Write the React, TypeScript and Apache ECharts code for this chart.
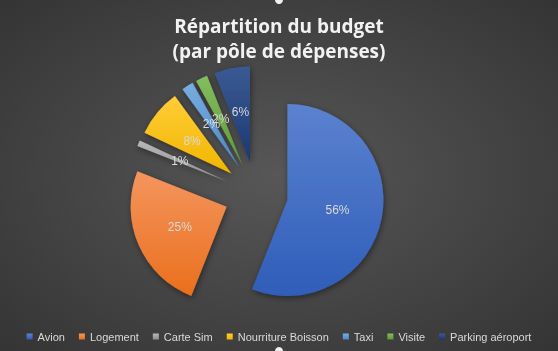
import React, { useEffect, useRef } from "react";
import * as echarts from "echarts";

const categories = ["Avion", "Logement", "Carte Sim", "Nourriture Boisson", "Taxi", "Visite", "Parking aéroport"];
const values = [56, 25, 1, 8, 2, 2, 6];
const topColors = ["#5b82d0", "#f4955e", "#b8b8b8", "#ffcd38", "#78aee0", "#84bd5e", "#3a5a94"];
const bottomColors = ["#2f5db8", "#ea6f1c", "#8f8f8f", "#f2b500", "#4a8acb", "#5e9a37", "#1d3870"];
const titleLines = ["Répartition du budget", "(par pôle de dépenses)"];

export default function App() {
  const ref = useRef<HTMLDivElement>(null);
  useEffect(() => {
    if (!ref.current) return;
    const chart = echarts.init(ref.current, undefined, { renderer: "svg" });
    const data = categories.map((name, i) => ({
      name,
      value: values[i],
      selected: true,
      itemStyle: {
        color: new echarts.graphic.LinearGradient(0, 0, 0, 1, [
          { offset: 0, color: topColors[i] },
          { offset: 1, color: bottomColors[i] },
        ]),
      },
    }));
    chart.setOption({
      animation: false,
      backgroundColor: {
        type: "radial",
        x: 0.5,
        y: 0.5,
        r: 0.75,
        colorStops: [
          { offset: 0, color: "#575757" },
          { offset: 1, color: "#323232" },
        ],
      },
      title: {
        text: titleLines.join("\n"),
        left: "center",
        top: 8,
        textStyle: {
          color: "#f2f2f2",
          fontFamily: "Open Sans",
          fontWeight: "bold",
          fontSize: 19,
          lineHeight: 25,
        },
      },
      legend: {
        data: categories,
        left: "center",
        top: 326,
        icon: "rect",
        itemWidth: 6,
        itemHeight: 6,
        itemGap: 14,
        textStyle: { color: "#d9d9d9", fontFamily: "Liberation Sans", fontSize: 11 },
        selectedMode: false,
      },
      graphic: [
        { type: "circle", shape: { cx: 279, cy: 0, r: 4 }, style: { fill: "#f0f0f0" } },
        { type: "circle", shape: { cx: 279, cy: 351, r: 4 }, style: { fill: "#f0f0f0" } },
      ],
      series: [
        {
          type: "pie",
          center: [256, 194],
          radius: [0, 96],
          startAngle: 90,
          clockwise: true,
          selectedMode: "multiple",
          selectedOffset: 32,
          avoidLabelOverlap: false,
          labelLayout: { hideOverlap: false },
          data,
          itemStyle: {
            shadowBlur: 6,
            shadowColor: "rgba(0,0,0,0.45)",
            shadowOffsetX: 1,
            shadowOffsetY: 2,
          },
          label: {
            show: true,
            position: "inside",
            color: "#d9d9d9",
            fontFamily: "Liberation Sans",
            fontSize: 12,
            overflow: "none",
            formatter: (p: any) => Math.round(p.percent) + "%",
          },
          labelLine: { show: false },
          emphasis: { disabled: true },
        },
      ],
    });
    return () => chart.dispose();
  }, []);
  return (
    <div
      ref={ref}
      style={{ position: "fixed", left: 0, top: 0, width: 558, height: 351 }}
    />
  );
}
